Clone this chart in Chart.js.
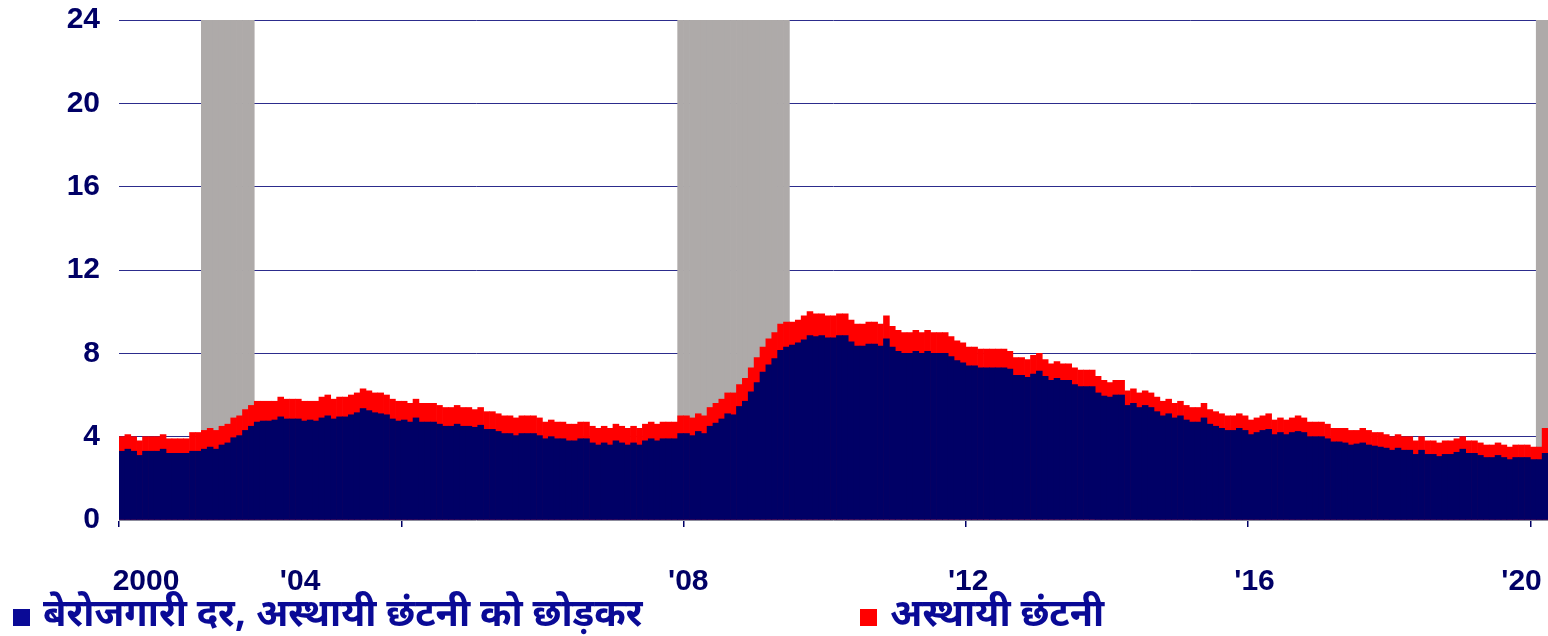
<!DOCTYPE html>
<html>
<head>
<meta charset="utf-8">
<script src="https://cdn.jsdelivr.net/npm/chart.js@4/dist/chart.umd.min.js"></script>
<style>
    body { margin: 0; background: #fff; }
    #wrap { position: relative; width: 1548px; height: 636px; }
    .lg {
        position: absolute;
        top: 597px;
        height: 40px;
        line-height: 40px;
        display: flex;
        align-items: center;
        white-space: nowrap;
        font: bold 38px 'Noto Sans Devanagari', 'Lohit Devanagari', 'Noto Sans', 'Liberation Sans', sans-serif;
        color: #0a0a96;
    }
    .sw { display: inline-block; width: 17px; height: 17px; margin-right: 13px; }
</style>
</head>
<body>
<div id="wrap">
    <canvas id="chart"></canvas>
    <div class="lg" style="left:13px"><span class="sw" style="background:#0a0a96"></span>बेरोजगारी दर, अस्थायी छंटनी को छोड़कर</div>
    <div class="lg" style="left:860px"><span class="sw" style="background:#ff0000"></span>अस्थायी छंटनी</div>
</div>
<script>
// Monthly unemployment rate, %, Jan 2000 - Mar 2020 (top of red area)
const totalRate = [
    4.0, 4.1, 4.0, 3.8, 4.0, 4.0, 4.0, 4.1, 3.9, 3.9, 3.9, 3.9,   // 2000
    4.2, 4.2, 4.3, 4.4, 4.3, 4.5, 4.6, 4.9, 5.0, 5.3, 5.5, 5.7,   // 2001
    5.7, 5.7, 5.7, 5.9, 5.8, 5.8, 5.8, 5.7, 5.7, 5.7, 5.9, 6.0,   // 2002
    5.8, 5.9, 5.9, 6.0, 6.1, 6.3, 6.2, 6.1, 6.1, 6.0, 5.8, 5.7,   // 2003
    5.7, 5.6, 5.8, 5.6, 5.6, 5.6, 5.5, 5.4, 5.4, 5.5, 5.4, 5.4,   // 2004
    5.3, 5.4, 5.2, 5.2, 5.1, 5.0, 5.0, 4.9, 5.0, 5.0, 5.0, 4.9,   // 2005
    4.7, 4.8, 4.7, 4.7, 4.6, 4.6, 4.7, 4.7, 4.5, 4.4, 4.5, 4.4,   // 2006
    4.6, 4.5, 4.4, 4.5, 4.4, 4.6, 4.7, 4.6, 4.7, 4.7, 4.7, 5.0,   // 2007
    5.0, 4.9, 5.1, 5.0, 5.4, 5.6, 5.8, 6.1, 6.1, 6.5, 6.8, 7.3,   // 2008
    7.8, 8.3, 8.7, 9.0, 9.4, 9.5, 9.5, 9.6, 9.8, 10.0, 9.9, 9.9,  // 2009
    9.8, 9.8, 9.9, 9.9, 9.6, 9.4, 9.4, 9.5, 9.5, 9.4, 9.8, 9.3,   // 2010
    9.1, 9.0, 9.0, 9.1, 9.0, 9.1, 9.0, 9.0, 9.0, 8.8, 8.6, 8.5,   // 2011
    8.3, 8.3, 8.2, 8.2, 8.2, 8.2, 8.2, 8.1, 7.8, 7.8, 7.7, 7.9,   // 2012
    8.0, 7.7, 7.5, 7.6, 7.5, 7.5, 7.3, 7.2, 7.2, 7.2, 6.9, 6.7,   // 2013
    6.6, 6.7, 6.7, 6.2, 6.3, 6.1, 6.2, 6.1, 5.9, 5.7, 5.8, 5.6,   // 2014
    5.7, 5.5, 5.4, 5.4, 5.6, 5.3, 5.2, 5.1, 5.0, 5.0, 5.1, 5.0,   // 2015
    4.8, 4.9, 5.0, 5.1, 4.8, 4.9, 4.8, 4.9, 5.0, 4.9, 4.7, 4.7,   // 2016
    4.7, 4.6, 4.4, 4.4, 4.4, 4.3, 4.3, 4.4, 4.3, 4.2, 4.2, 4.1,   // 2017
    4.0, 4.1, 4.0, 4.0, 3.8, 4.0, 3.8, 3.8, 3.7, 3.8, 3.8, 3.9,   // 2018
    4.0, 3.8, 3.8, 3.7, 3.6, 3.6, 3.7, 3.6, 3.5, 3.6, 3.6, 3.6,   // 2019
    3.5, 3.5, 4.4                                                 // 2020
];

// Unemployment rate excluding temporary layoffs (navy area)
const exTempRate = [
    3.3, 3.4, 3.3, 3.1, 3.3, 3.3, 3.3, 3.4, 3.2, 3.2, 3.2, 3.2,             // 2000
    3.3, 3.3, 3.4, 3.5, 3.4, 3.6, 3.7, 3.95, 4.05, 4.3, 4.5, 4.7,           // 2001
    4.75, 4.75, 4.8, 4.95, 4.85, 4.85, 4.85, 4.75, 4.8, 4.75, 4.9, 5.0,     // 2002
    4.85, 4.95, 4.95, 5.05, 5.15, 5.35, 5.25, 5.15, 5.1, 5.05, 4.85, 4.75,  // 2003
    4.8, 4.7, 4.9, 4.7, 4.7, 4.7, 4.6, 4.5, 4.5, 4.6, 4.5, 4.5,             // 2004
    4.45, 4.55, 4.35, 4.35, 4.25, 4.15, 4.15, 4.05, 4.15, 4.15, 4.15, 4.05, // 2005
    3.9, 4.0, 3.9, 3.9, 3.8, 3.8, 3.9, 3.9, 3.7, 3.6, 3.7, 3.6,             // 2006
    3.8, 3.7, 3.6, 3.7, 3.6, 3.8, 3.9, 3.8, 3.9, 3.9, 3.9, 4.15,            // 2007
    4.15, 4.05, 4.25, 4.15, 4.5, 4.65, 4.85, 5.1, 5.05, 5.45, 5.7, 6.15,    // 2008
    6.6, 7.1, 7.45, 7.75, 8.15, 8.3, 8.4, 8.5, 8.65, 8.85, 8.8, 8.85,       // 2009
    8.75, 8.75, 8.85, 8.85, 8.55, 8.35, 8.35, 8.45, 8.45, 8.35, 8.7, 8.3,   // 2010
    8.1, 8.0, 8.0, 8.1, 8.0, 8.1, 8.0, 8.0, 8.0, 7.85, 7.65, 7.55,          // 2011
    7.4, 7.4, 7.3, 7.3, 7.3, 7.3, 7.3, 7.25, 6.95, 6.95, 6.85, 7.0,         // 2012
    7.15, 6.9, 6.7, 6.8, 6.7, 6.7, 6.5, 6.4, 6.4, 6.4, 6.1, 5.95,           // 2013
    5.9, 6.0, 6.0, 5.5, 5.6, 5.4, 5.5, 5.4, 5.2, 5.0, 5.1, 4.9,             // 2014
    5.0, 4.8, 4.7, 4.7, 4.9, 4.6, 4.5, 4.4, 4.3, 4.3, 4.4, 4.3,             // 2015
    4.1, 4.2, 4.3, 4.35, 4.1, 4.2, 4.1, 4.2, 4.25, 4.2, 4.0, 4.0,           // 2016
    4.0, 3.9, 3.75, 3.75, 3.7, 3.6, 3.65, 3.7, 3.6, 3.55, 3.5, 3.45,        // 2017
    3.35, 3.45, 3.35, 3.35, 3.15, 3.35, 3.15, 3.15, 3.05, 3.15, 3.15, 3.25, // 2018
    3.4, 3.2, 3.2, 3.1, 3.0, 3.0, 3.1, 3.0, 2.9, 3.0, 3.0, 3.0,             // 2019
    2.9, 2.9, 3.2                                                           // 2020
];

// Recessions (first and last month shaded)
const recessions = [
    ['2001-03', '2001-11'],
    ['2007-12', '2009-06'],
    ['2020-02', '2020-03']
];

const tickLabels = ['2000', "'04", "'08", "'12", "'16", "'20"];

const startYear = 2000;
const yMax = 24;

// where the year labels sit along the axis (in months from Jan 2000)
const labelAt = [4.6, 30.8, 96.8, 144.4, 193.1, 238.5];

const monthIndex = s => (parseInt(s.slice(0, 4)) - startYear) * 12 + parseInt(s.slice(5, 7)) - 1;

const labels = totalRate.map((_, i) =>
    `${startYear + Math.floor(i / 12)}-${String(i % 12 + 1).padStart(2, '0')}`);

const recessionBars = labels.map((_, i) =>
    recessions.some(([a, b]) => i >= monthIndex(a) && i <= monthIndex(b)) ? yMax : null);

const NAVY = '#000066';
const tickFont = { family: "'Liberation Sans', Arial, sans-serif", size: 30, weight: 'bold' };

// keep the plot area fixed: no extra room for overhanging tick labels
const noPad = s => { s.paddingTop = 0; s.paddingBottom = 0; s.paddingLeft = 0; s.paddingRight = 0; };

new Chart(document.getElementById('chart'), {
    type: 'bar',
    data: {
        labels: labels,
        datasets: [
            {
                label: 'बेरोजगारी दर, अस्थायी छंटनी को छोड़कर',
                data: exTempRate,
                backgroundColor: NAVY,
                grouped: false,
                order: 1
            },
            {
                label: 'अस्थायी छंटनी',
                data: totalRate,
                backgroundColor: '#ff0000',
                grouped: false,
                order: 2
            },
            {
                label: 'recession',
                data: recessionBars,
                backgroundColor: '#aeaaa9',
                grouped: false,
                order: 3
            }
        ]
    },
    options: {
        responsive: true,
        maintainAspectRatio: false,
        animation: false,
        layout: { padding: { top: 20, left: 0, right: 0, bottom: 0 } },
        datasets: { bar: { categoryPercentage: 1, barPercentage: 1 } },
        plugins: {
            legend: { display: false },
            tooltip: { enabled: false }
        },
        scales: {
            x: {
                type: 'category',
                position: 'bottom',
                weight: 0,
                offset: true,
                grid: {
                    offset: true,
                    drawOnChartArea: false,
                    tickLength: 7,
                    lineWidth: 1.5,
                    color: c => (c.index % 48 === 0 ? NAVY : 'transparent')
                },
                ticks: { display: false },
                border: { display: true, color: '#8c8c9c', dash: [2, 2], width: 1 },
                afterFit: s => { s.height = 7; noPad(s); }
            },
            xl: {
                type: 'linear',
                position: 'bottom',
                weight: 1,
                min: 0,
                max: 243,
                offset: false,
                grid: { display: false, offset: false },
                border: { display: false },
                afterBuildTicks: s => { s.ticks = labelAt.map(v => ({ value: v })); },
                ticks: {
                    autoSkip: false,
                    maxRotation: 0,
                    padding: 29,
                    color: NAVY,
                    font: tickFont,
                    callback: (v, i) => tickLabels[i]
                },
                afterFit: s => { s.height = 109; noPad(s); }
            },
            y: {
                min: 0,
                max: yMax,
                ticks: { stepSize: 4, color: NAVY, font: tickFont, padding: 19 },
                grid: {
                    drawTicks: false,
                    color: c => (c.tick && c.tick.value === 0 ? 'transparent' : '#2c2c8c')
                },
                border: { display: false },
                afterFit: s => { s.width = 119; noPad(s); }
            }
        }
    }
});
</script>
</body>
</html>
